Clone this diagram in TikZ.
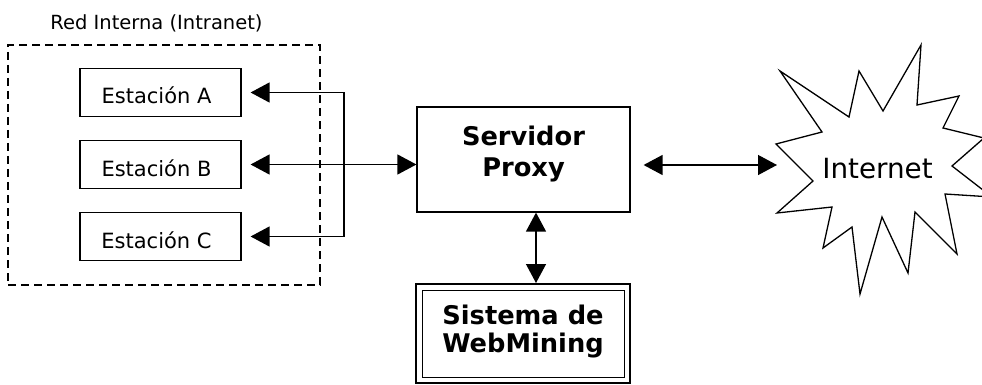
\documentclass[tikz,border=0pt]{standalone}
\usepackage{fontspec}
\setmainfont{DejaVu Sans}
\usetikzlibrary{arrows.meta}
\begin{document}
\begin{tikzpicture}[x=1pt,y=-1pt,
  box/.style={draw, line width=1.2pt, inner sep=0pt},
  conn/.style={line width=1.3pt},
  tipend/.style={conn,-{Triangle[length=19pt,width=20pt]}},
  dbl/.style={conn,{Triangle[length=19pt,width=20pt]}-{Triangle[length=19pt,width=20pt]}},
  stfont/.style={font=\fontsize{21}{25}\selectfont},
  bfont/.style={font=\fontsize{25.7}{31}\selectfont\bfseries},
  station/.style={box, stfont, minimum width=161pt, minimum height=48pt, text height=23pt, text depth=0pt, execute at end node={\hspace*{8pt}}},
]
\useasboundingbox (0,0) rectangle (982,385);
\clip (0,0) rectangle (982,385);

% intranet frame
\node[draw, line width=1.5pt, dash pattern=on 8pt off 5pt, minimum width=312pt, minimum height=240pt, inner sep=0pt] (R) at (164,165) {};
\node[font=\fontsize{19.5}{23}\selectfont, anchor=base] (Rt) at (156.5,29.3) {Red Interna (Intranet)};

% stations
\node[station] (A) at (160.5,92.5) {Estación A};
\node[station] (B) at (160.5,164.5) {Estación B};
\node[station] (C) at (160.5,236.5) {Estación C};

% proxy
\node[box, minimum width=213pt, minimum height=105pt] (P) at (523.5,159.5) {};
\node[bfont, anchor=base] (P1) at (523.5,145.7) {Servidor};
\node[bfont, anchor=base] (P2) at (523.5,176.7) {Proxy};

% webmining
\node[draw, line width=2pt, minimum width=214pt, minimum height=99pt, inner sep=0pt] (W) at (523,333.5) {};
\node[draw, line width=1pt, minimum width=202pt, minimum height=87pt, inner sep=0pt] (Wi) at (W.center) {};
\node[bfont, anchor=base] (W1) at (523,324) {Sistema de};
\node[bfont, anchor=base] (W2) at (523,352) {WebMining};

% internet star
\draw[line width=1.3pt, line join=miter] (780,71) -- (849,117) -- (859,71) -- (883,111) -- (921,45) -- (917,105) -- (959,96) -- (943,128) -- (984,138) -- (952,166) -- (992,197) -- (945,194) -- (957,254) -- (915,212) -- (908,273) -- (882,217) -- (860,294) -- (852,227) -- (823,248) -- (832,207) -- (777,213) -- (813,181) -- (776,144) -- (822,132) -- cycle;
\node[font=\fontsize{27.8}{32}\selectfont, anchor=base] (I) at (877.5,178.3) {Internet};

% connectors
\coordinate (jA) at (344,92.5);
\coordinate (jC) at (344,236.5);
\coordinate (vx) at (536,0);
\coordinate (iL) at (777,165);
\draw[conn] (jA) -- (jC);
\draw[tipend, shorten >=9pt] (jA) -- (A.east);
\draw[tipend, shorten >=9pt] (jC) -- (C.east);
\draw[dbl, shorten <=9pt] (B.east) -- (B.east -| P.west);
\draw[dbl] (P.south -| vx) -- (W.north -| vx);
\draw[dbl, shorten <=13pt] (P.east |- iL) -- (iL);
\end{tikzpicture}
\end{document}
